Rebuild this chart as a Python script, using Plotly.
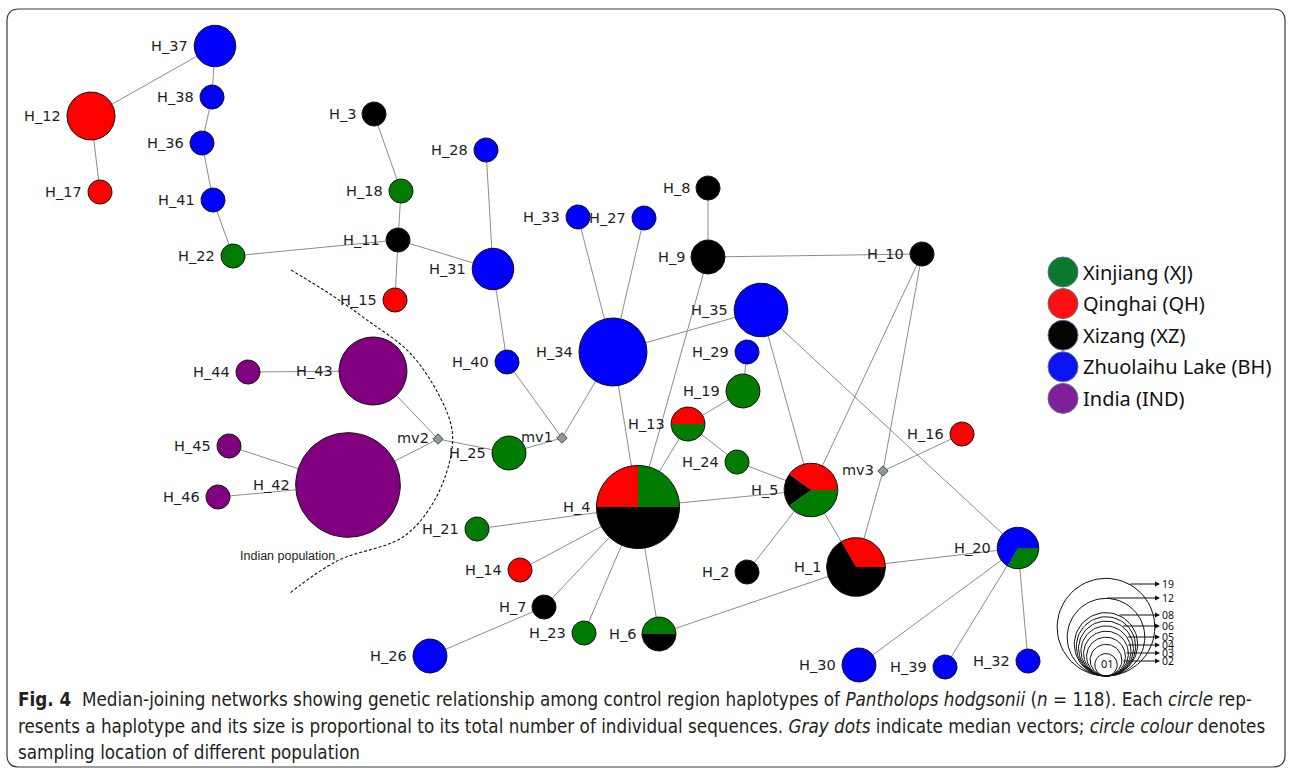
import math
import plotly.graph_objects as go

# ---------------- haplotype network ----------------
haplotypes = ["H_1", "H_2", "H_3", "H_4", "H_5", "H_6", "H_7", "H_8", "H_9", "H_10",
              "H_11", "H_12", "H_13", "H_14", "H_15", "H_16", "H_17", "H_18", "H_19", "H_20",
              "H_21", "H_22", "H_23", "H_24", "H_25", "H_26", "H_27", "H_28", "H_29", "H_30",
              "H_31", "H_32", "H_33", "H_34", "H_35", "H_36", "H_37", "H_38", "H_39", "H_40",
              "H_41", "H_42", "H_43", "H_44", "H_45", "H_46"]

# network layout coordinates
hap_x = [856, 747, 374, 638, 811, 659, 544, 708, 708, 922,
         398, 91, 688, 520, 395, 962, 100, 401, 743, 1018,
         477, 233, 584, 737, 509, 430, 644, 486, 747, 859,
         493, 1028, 578, 613, 761, 202, 215, 212, 945, 507,
         213, 348, 373, 248, 229, 218]
hap_y = [567, 572, 114, 507, 490, 634, 607, 188, 257, 254,
         240, 116, 424, 570, 300, 434, 192, 191, 391, 548,
         529, 256, 633, 462, 453, 656, 218, 150, 352, 665,
         269, 661, 217, 352, 310, 143, 46, 97, 667, 362,
         200, 485, 371, 372, 446, 497]

# number of sequences per sampling location
xj = [0, 0, 0, 3, 2, 1, 0, 0, 0, 0,
      0, 0, 1, 0, 0, 0, 0, 1, 2, 1,
      1, 1, 1, 1, 2, 0, 0, 0, 0, 0,
      0, 0, 0, 0, 0, 0, 0, 0, 0, 0,
      0, 0, 0, 0, 0, 0]
qh = [2, 0, 0, 3, 2, 0, 0, 0, 0, 0,
      0, 4, 1, 1, 1, 1, 1, 0, 0, 0,
      0, 0, 0, 0, 0, 0, 0, 0, 0, 0,
      0, 0, 0, 0, 0, 0, 0, 0, 0, 0,
      0, 0, 0, 0, 0, 0]
xz = [4, 1, 1, 6, 1, 1, 1, 1, 2, 1,
      1, 0, 0, 0, 0, 0, 0, 0, 0, 0,
      0, 0, 0, 0, 0, 0, 0, 0, 0, 0,
      0, 0, 0, 0, 0, 0, 0, 0, 0, 0,
      0, 0, 0, 0, 0, 0]
bh = [0, 0, 0, 0, 0, 0, 0, 0, 0, 0,
      0, 0, 0, 0, 0, 0, 0, 0, 0, 2,
      0, 0, 0, 0, 0, 2, 1, 1, 1, 2,
      3, 1, 1, 8, 5, 1, 3, 1, 1, 1,
      1, 0, 0, 0, 0, 0]
ind = [0, 0, 0, 0, 0, 0, 0, 0, 0, 0,
       0, 0, 0, 0, 0, 0, 0, 0, 0, 0,
       0, 0, 0, 0, 0, 0, 0, 0, 0, 0,
       0, 0, 0, 0, 0, 0, 0, 0, 0, 0,
       0, 19, 8, 1, 1, 1]

# angle (degrees, counter-clockwise from east) where the XJ slice starts
pie_rotation = [0, 0, 0, 0, 216, 0, 0, 0, 0, 0,
                0, 0, 180, 0, 0, 0, 0, 0, 0, 240,
                0, 0, 0, 0, 0, 0, 0, 0, 0, 0,
                0, 0, 0, 0, 0, 0, 0, 0, 0, 0,
                0, 0, 0, 0, 0, 0]

# median vectors
median_vectors = ["mv1", "mv2", "mv3"]
mv_x = [562, 438, 883]
mv_y = [438, 439, 471]

edges = [("H_37", "H_12"), ("H_37", "H_38"), ("H_38", "H_36"), ("H_36", "H_41"),
         ("H_41", "H_22"), ("H_12", "H_17"), ("H_22", "H_11"), ("H_3", "H_18"),
         ("H_18", "H_11"), ("H_11", "H_15"), ("H_11", "H_31"), ("H_28", "H_31"),
         ("H_31", "H_40"), ("H_40", "mv1"), ("mv1", "H_34"), ("mv1", "H_25"),
         ("H_25", "mv2"), ("mv2", "H_43"), ("mv2", "H_42"), ("H_43", "H_44"),
         ("H_42", "H_45"), ("H_42", "H_46"), ("H_33", "H_34"), ("H_27", "H_34"),
         ("H_34", "H_35"), ("H_34", "H_4"), ("H_8", "H_9"), ("H_9", "H_10"),
         ("H_9", "H_4"), ("H_10", "H_5"), ("H_10", "mv3"), ("mv3", "H_1"),
         ("mv3", "H_16"), ("H_35", "H_5"), ("H_35", "H_20"), ("H_29", "H_19"),
         ("H_19", "H_13"), ("H_13", "H_4"), ("H_13", "H_24"), ("H_24", "H_5"),
         ("H_4", "H_5"), ("H_4", "H_21"), ("H_4", "H_14"), ("H_4", "H_7"),
         ("H_4", "H_23"), ("H_4", "H_6"), ("H_7", "H_26"), ("H_6", "H_1"),
         ("H_5", "H_2"), ("H_5", "H_1"), ("H_1", "H_20"), ("H_20", "H_30"),
         ("H_20", "H_39"), ("H_20", "H_32")]

populations = ["Xinjiang (XJ)", "Qinghai (QH)", "Xizang (XZ)",
               "Zhuolaihu Lake (BH)", "India (IND)"]
pop_colors = ["#007d00", "#ff0000", "#000000", "#0000ff", "#800080"]
legend_colors = ["#0b7a2b", "#ff1010", "#050505", "#0a14f0", "#7f1f9c"]

# boundary drawn around the Indian haplotypes
boundary_x = [291, 330, 367, 410, 440, 452, 450, 433, 403, 337, 290]
boundary_y = [270, 294, 320, 353, 397, 430, 460, 503, 537, 561, 593]

# circle-size key
key_counts = [1, 2, 3, 4, 5, 6, 7, 8, 12, 19]
key_labels = ["19", "12", "08", "06", "05", "04", "03", "02"]
key_label_counts = [19, 12, 8, 6, 5, 4, 3, 2]
key_label_y = [584, 598, 615, 626, 637, 645, 653, 661]

caption_lines = [
    "<b>Fig. 4</b>  Median-joining networks showing genetic relationship among control region "
    "haplotypes of <i>Pantholops hodgsonii</i> (<i>n</i> = 118). Each <i>circle</i> rep-",
    "resents a haplotype and its size is proportional to its total number of individual "
    "sequences. <i>Gray dots</i> indicate median vectors; <i>circle colour</i> denotes",
    "sampling location of different population",
]

# ---------------- geometry helpers ----------------
R_UNIT = 12.0      # radius per sqrt(sequence count)
KEY_UNIT = 11.2
KEY_X, KEY_BOTTOM = 1106, 676


def arc(cx, cy, r, a0, a1, steps=72):
    n = max(4, int(steps * abs(a1 - a0) / 360.0))
    pts = []
    for k in range(n + 1):
        a = math.radians(a0 + (a1 - a0) * k / n)
        pts.append((cx + r * math.cos(a), cy - r * math.sin(a)))
    return pts


pos = {h: (x, y) for h, x, y in zip(haplotypes, hap_x, hap_y)}
for m, x, y in zip(median_vectors, mv_x, mv_y):
    pos[m] = (x, y)

counts = list(zip(xj, qh, xz, bh, ind))
radius = {h: R_UNIT * math.sqrt(sum(c)) for h, c in zip(haplotypes, counts)}

fig = go.Figure()

# connecting lines
ex, ey = [], []
for a, b in edges:
    ex += [pos[a][0], pos[b][0], None]
    ey += [pos[a][1], pos[b][1], None]
fig.add_trace(go.Scatter(x=ex, y=ey, mode="lines",
                         line=dict(color="#8c8c8c", width=1), hoverinfo="skip"))

# pie slices, one filled trace per sampling location
slice_x = [[] for _ in populations]
slice_y = [[] for _ in populations]
for h, c, rot in zip(haplotypes, counts, pie_rotation):
    cx, cy = pos[h]
    r = radius[h]
    total = sum(c)
    start = rot
    for p, v in enumerate(c):
        if v == 0:
            continue
        span = 360.0 * v / total
        pts = arc(cx, cy, r, start, start + span)
        if v < total:
            pts = [(cx, cy)] + pts + [(cx, cy)]
        slice_x[p] += [q[0] for q in pts] + [None]
        slice_y[p] += [q[1] for q in pts] + [None]
        start += span
for p, col in enumerate(pop_colors):
    fig.add_trace(go.Scatter(x=slice_x[p], y=slice_y[p], mode="lines", fill="toself",
                             fillcolor=col, line=dict(width=0, color=col),
                             hoverinfo="skip"))

# node outlines
ox, oy = [], []
for h in haplotypes:
    pts = arc(pos[h][0], pos[h][1], radius[h], 0, 360)
    ox += [q[0] for q in pts] + [None]
    oy += [q[1] for q in pts] + [None]
fig.add_trace(go.Scatter(x=ox, y=oy, mode="lines",
                         line=dict(color="#111111", width=1), hoverinfo="skip"))

# median vectors
fig.add_trace(go.Scatter(x=mv_x, y=mv_y, mode="markers",
                         marker=dict(symbol="diamond", size=8, color="#8d9a9a",
                                     line=dict(color="#4a4a4a", width=1)),
                         hoverinfo="skip"))

# boundary of the Indian population
fig.add_trace(go.Scatter(x=boundary_x, y=boundary_y, mode="lines",
                         line=dict(color="#111111", width=1.1, dash="3px,2px",
                                   shape="spline", smoothing=1.0),
                         hoverinfo="skip"))

annotations = []
label_font = dict(family="DejaVu Sans", size=14.5, color="#1e1e1e")
for h in haplotypes:
    x, y = pos[h]
    annotations.append(dict(x=x - radius[h] - 4, y=y, text=h, showarrow=False,
                            xanchor="right", yanchor="middle", font=label_font))
for m, x, y in zip(median_vectors, mv_x, mv_y):
    annotations.append(dict(x=x - 7, y=y - 1, text=m, showarrow=False,
                            xanchor="right", yanchor="middle", font=label_font))
annotations.append(dict(x=287, y=556, text="Indian population", showarrow=False,
                        font=dict(family="Liberation Sans", size=12.5, color="#1e1e1e")))

# location key
for i, (name, col) in enumerate(zip(populations, legend_colors)):
    ly = 272 + 31.6 * i
    fig.add_trace(go.Scatter(x=[1063], y=[ly], mode="markers",
                             marker=dict(size=30, color=col,
                                         line=dict(color="#5a6f8c", width=1)),
                             hoverinfo="skip"))
    annotations.append(dict(x=1081, y=ly, text=name, showarrow=False,
                            xanchor="left", yanchor="middle",
                            font=dict(family="Noto Sans", size=20, color="#111111")))

# circle-size key
kx, ky = [], []
for n in key_counts:
    r = KEY_UNIT * math.sqrt(n)
    pts = arc(KEY_X, KEY_BOTTOM - r, r, 0, 360)
    kx += [q[0] for q in pts] + [None]
    ky += [q[1] for q in pts] + [None]
fig.add_trace(go.Scatter(x=kx, y=ky, mode="lines",
                         line=dict(color="#111111", width=1), hoverinfo="skip"))
for lab, n, yy in zip(key_labels, key_label_counts, key_label_y):
    r = KEY_UNIT * math.sqrt(n)
    cy = KEY_BOTTOM - r
    dx = math.sqrt(max(r * r - (yy - cy) ** 2, 0))
    annotations.append(dict(x=1160, y=yy, ax=KEY_X + dx, ay=yy, axref="x", ayref="y",
                            xref="x", yref="y", text="", showarrow=True,
                            arrowhead=2, arrowsize=1, arrowwidth=1, arrowcolor="#111111"))
    annotations.append(dict(x=1161, y=yy, text=lab, showarrow=False, xanchor="left",
                            yanchor="middle", borderpad=0,
                            font=dict(family="Noto Sans", size=10.5, color="#111111")))
annotations.append(dict(x=KEY_X + 1, y=663, text="01", showarrow=False,
                        font=dict(family="Noto Sans", size=11, color="#111111")))

# caption
for line, yy in zip(caption_lines, [699, 726, 752]):
    annotations.append(dict(x=16, y=yy, text=line, showarrow=False, xanchor="left",
                            yanchor="middle",
                            font=dict(family="DejaVu Sans Condensed, Liberation Sans Narrow",
                                      size=18.7, color="#231f20")))

# frame with rounded corners
x0, y0, x1, y1, rc = 7, 9, 1285, 767, 12
frame = (f"M {x0 + rc},{y0} L {x1 - rc},{y0} Q {x1},{y0} {x1},{y0 + rc} "
         f"L {x1},{y1 - rc} Q {x1},{y1} {x1 - rc},{y1} L {x0 + rc},{y1} "
         f"Q {x0},{y1} {x0},{y1 - rc} L {x0},{y0 + rc} Q {x0},{y0} {x0 + rc},{y0} Z")

fig.update_layout(
    width=1292, height=774,
    margin=dict(l=0, r=0, t=0, b=0),
    paper_bgcolor="white", plot_bgcolor="white",
    showlegend=False,
    xaxis=dict(range=[0, 1292], visible=False, fixedrange=True),
    yaxis=dict(range=[774, 0], visible=False, fixedrange=True),
    annotations=annotations,
    shapes=[dict(type="path", path=frame, xref="x", yref="y",
                 line=dict(color="#3a3a3a", width=1.2))],
)

fig.write_html("out.html")
